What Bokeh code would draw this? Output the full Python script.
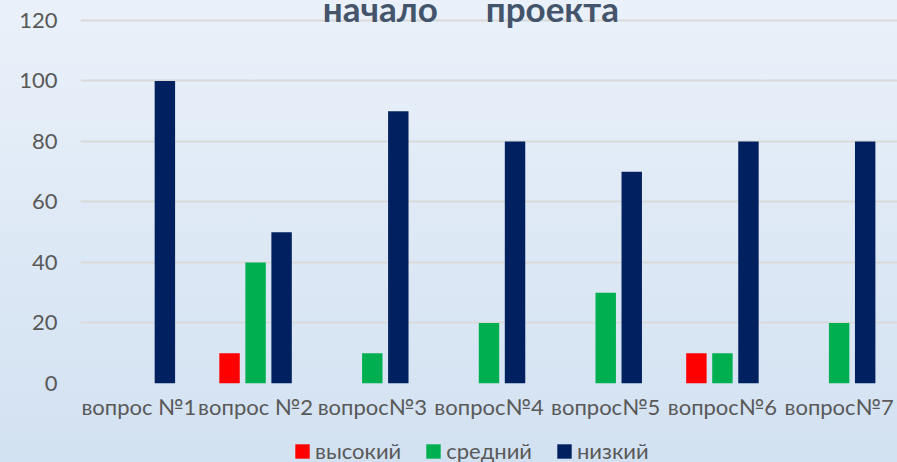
from bokeh.plotting import figure
from bokeh.layouts import column
from bokeh.models import FactorRange, Range1d, Legend, LegendItem, ColumnDataSource, Label, FixedTicker
from bokeh.transform import dodge
from bokeh.embed import file_html
from bokeh.resources import INLINE
from bokeh.core.properties import value

# ---- data ----
categories = ["вопрос №1", "вопрос №2", "вопрос№3", "вопрос№4", "вопрос№5", "вопрос№6", "вопрос№7"]
series_names = ["высокий", "средний", "низкий"]
high = [0, 10, 0, 0, 0, 10, 0]
mid = [0, 40, 10, 20, 30, 10, 20]
low = [100, 50, 90, 80, 70, 80, 80]
y_ticks = [0, 20, 40, 60, 80, 100, 120]
title_words = ["начало", "проекта"]

colors = ["#FF0000", "#00B050", "#002060"]
FONT = "Lato"
TXT = "#595959"

src = ColumnDataSource(dict(cat=categories, high=high, mid=mid, low=low))

p = figure(x_range=FactorRange(*categories), y_range=Range1d(0, 126.6),
           width=897, height=432, output_backend="svg", toolbar_location=None,
           min_border_left=80, min_border_right=0, min_border_top=0, min_border_bottom=49)
p.background_fill_color = None
p.border_fill_color = None
p.outline_line_color = None

offsets = [-0.223, 0.0, 0.223]
for key, off, col in zip(["high", "mid", "low"], offsets, colors):
    p.vbar(x=dodge("cat", off, range=p.x_range), top=key, width=0.175, bottom=0,
           source=src, fill_color=col, line_color=None)

p.xgrid.grid_line_color = None
p.ygrid.grid_line_color = "#D9D9D9"
p.ygrid.grid_line_width = 2
p.yaxis.ticker = FixedTicker(ticks=y_ticks)

for ax in (p.xaxis[0], p.yaxis[0]):
    ax.axis_line_color = None
    ax.major_tick_line_color = None
    ax.minor_tick_line_color = None
    ax.major_tick_out = 0
    ax.major_tick_in = 0
    ax.major_label_text_font = FONT
    ax.major_label_text_font_size = "22px"
    ax.major_label_text_color = TXT
p.yaxis.major_label_standoff = 23
p.xaxis.major_label_standoff = 9

p.add_layout(Label(x=3.061, y=124.0, text=title_words[0], text_align="right",
                   text_baseline="alphabetic",
                   text_font=FONT, text_font_style="bold", text_font_size="35px",
                   text_color="#44546A"))
p.add_layout(Label(x=3.472, y=124.0, text=title_words[1], text_align="left",
                   text_baseline="alphabetic",
                   text_font=FONT, text_font_style="bold", text_font_size="35px",
                   text_color="#44546A"))

# legend strip below the chart
lf = figure(width=897, height=30, output_backend="svg", toolbar_location=None,
            x_range=Range1d(0, 1), y_range=Range1d(0, 1),
            x_axis_location=None, y_axis_location=None,
            min_border_left=0, min_border_right=0, min_border_top=0, min_border_bottom=0)
lf.grid.visible = False
lf.background_fill_color = None
lf.border_fill_color = None
lf.outline_line_color = None
items = []
for name, col in zip(series_names, colors):
    r = lf.vbar(x=[0.5], top=[0], bottom=[0], width=0.0, fill_color=col, line_color=None)
    items.append(LegendItem(label=name, renderers=[r]))
legend = Legend(items=items, orientation="horizontal", location=(213, -2),
                label_text_font=FONT, label_text_font_size="22px", label_text_color=TXT,
                glyph_width=18, glyph_height=18, label_standoff=4, spacing=23,
                padding=0, margin=0, border_line_color=None, background_fill_alpha=0)
lf.add_layout(legend)

layout = column(p, lf, spacing=0)

html = file_html(layout, INLINE)
style = ("<style>html{background:linear-gradient(180deg,#EAF1FA 0%,#D2E1F1 100%);"
         "min-height:100%;}body{background:transparent;}</style>")
html = html.replace("<head>", "<head>" + style, 1)
open("out.html", "w").write(html)
